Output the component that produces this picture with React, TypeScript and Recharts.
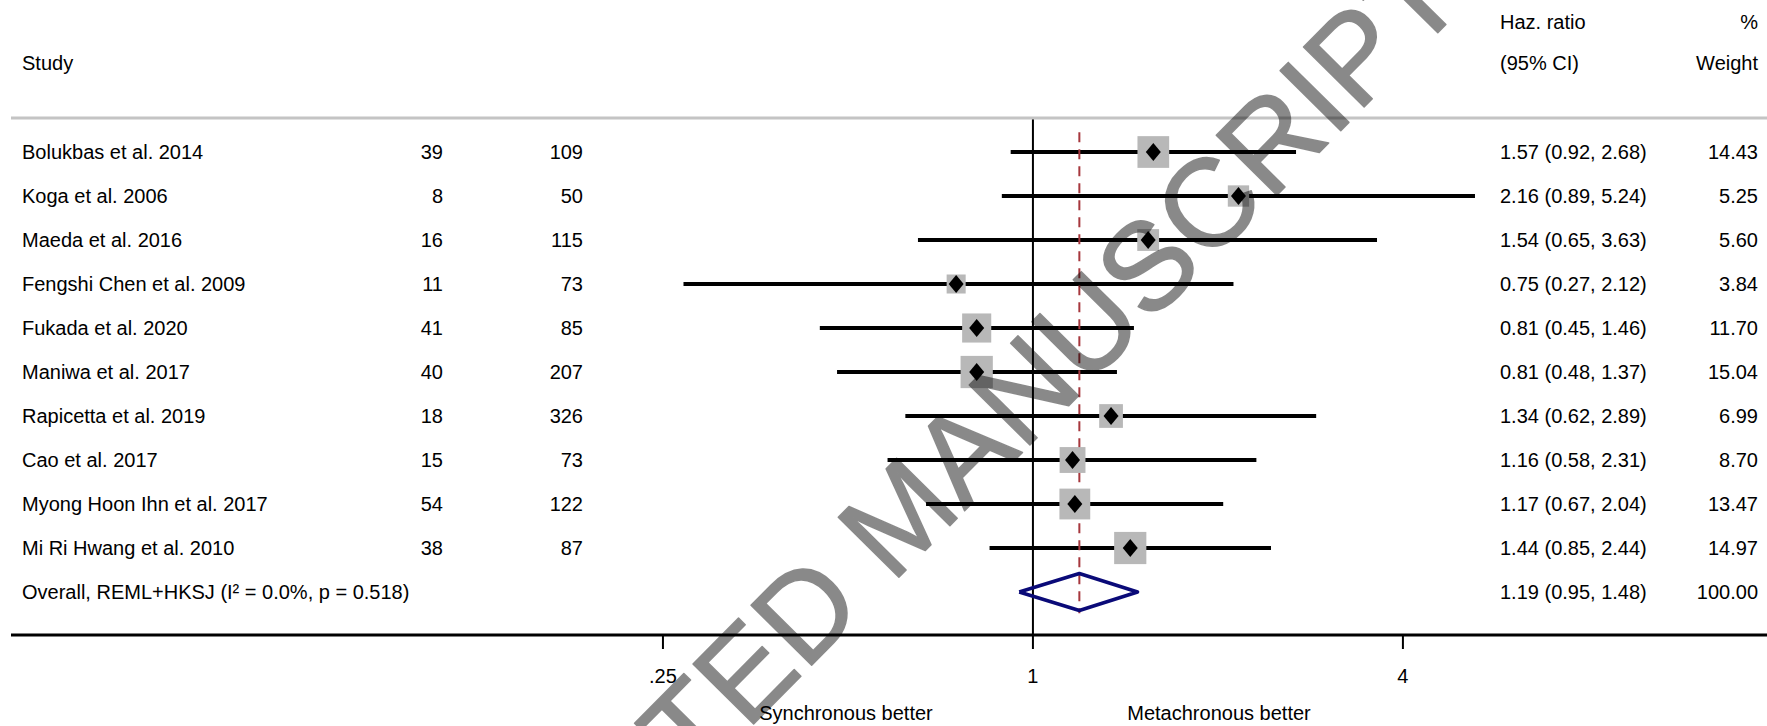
import React from "react"
import {
  ComposedChart,
  XAxis,
  YAxis,
  Scatter,
  Line,
  ReferenceLine,
} from "recharts"

const STUDIES = [
  "Bolukbas et al. 2014",
  "Koga et al. 2006",
  "Maeda et al. 2016",
  "Fengshi Chen et al. 2009",
  "Fukada et al. 2020",
  "Maniwa et al. 2017",
  "Rapicetta et al. 2019",
  "Cao et al. 2017",
  "Myong Hoon Ihn et al. 2017",
  "Mi Ri Hwang et al. 2010",
]
const EVENTS = [39, 8, 16, 11, 41, 40, 18, 15, 54, 38]
const TOTALS = [109, 50, 115, 73, 85, 207, 326, 73, 122, 87]
const HR = [1.57, 2.16, 1.54, 0.75, 0.81, 0.81, 1.34, 1.16, 1.17, 1.44]
const CI_LOW = [0.92, 0.89, 0.65, 0.27, 0.45, 0.48, 0.62, 0.58, 0.67, 0.85]
const CI_HIGH = [2.68, 5.24, 3.63, 2.12, 1.46, 1.37, 2.89, 2.31, 2.04, 2.44]
const WEIGHTS = [14.43, 5.25, 5.6, 3.84, 11.7, 15.04, 6.99, 8.7, 13.47, 14.97]

const OVERALL_LABEL = "Overall, REML+HKSJ (I² = 0.0%, p = 0.518)"
const OVERALL_HR = 1.19
const OVERALL_LOW = 0.95
const OVERALL_HIGH = 1.48
const OVERALL_WEIGHT = 100

const X_TICKS = [0.25, 1, 4]
const X_TICK_LABELS = [".25", "1", "4"]

// layout
const W = 1767
const H = 726
const FONT = "'Liberation Sans', Arial, Helvetica, sans-serif"
const X_DOMAIN: [number, number] = [0.02173, 15.65]
const Y_DOMAIN: [number, number] = [-0.773, 10.977]
const COL_STUDY = 22
const COL_EVENTS = 443
const COL_TOTAL = 583
const COL_HR = 1500
const COL_WEIGHT = 1758
const DIAMOND_HALF = 0.42

const rows = STUDIES.map((_, i) => ({ x: HR[i], y: i, w: WEIGHTS[i] }))

const overallIdx = STUDIES.length
const overallPoly = [
  { x: OVERALL_LOW, y: overallIdx },
  { x: OVERALL_HR, y: overallIdx - DIAMOND_HALF },
  { x: OVERALL_HIGH, y: overallIdx },
  { x: OVERALL_HR, y: overallIdx + DIAMOND_HALF },
  { x: OVERALL_LOW, y: overallIdx },
]

const fmtCI = (h: number, l: number, u: number) =>
  `${h.toFixed(2)} (${l.toFixed(2)}, ${u.toFixed(2)})`

const squareSide = (w: number) => 5.5 + 6.9 * Math.sqrt(w)

function SquareShape(props: any) {
  const { cx, cy, payload } = props
  const s = squareSide(payload.w)
  return <rect x={cx - s / 2} y={cy - s / 2} width={s} height={s} fill="#b8b8b8" />
}

function DiamondShape(props: any) {
  const { cx, cy } = props
  const hw = 7.5
  const hh = 9
  return (
    <polygon
      points={`${cx - hw},${cy} ${cx},${cy - hh} ${cx + hw},${cy} ${cx},${cy + hh}`}
      fill="#000"
    />
  )
}

function RowTick(props: any) {
  const { y, payload } = props
  const i = payload.value
  const base = y + 7
  if (i === overallIdx) {
    return (
      <g fontSize={20} fill="#000">
        <text x={COL_STUDY} y={base}>{OVERALL_LABEL}</text>
        <text x={COL_HR} y={base}>{fmtCI(OVERALL_HR, OVERALL_LOW, OVERALL_HIGH)}</text>
        <text x={COL_WEIGHT} y={base} textAnchor="end">{OVERALL_WEIGHT.toFixed(2)}</text>
      </g>
    )
  }
  return (
    <g fontSize={20} fill="#000">
      <text x={COL_STUDY} y={base}>{STUDIES[i]}</text>
      <text x={COL_EVENTS} y={base} textAnchor="end">{EVENTS[i]}</text>
      <text x={COL_TOTAL} y={base} textAnchor="end">{TOTALS[i]}</text>
      <text x={COL_HR} y={base}>{fmtCI(HR[i], CI_LOW[i], CI_HIGH[i])}</text>
      <text x={COL_WEIGHT} y={base} textAnchor="end">{WEIGHTS[i].toFixed(2)}</text>
    </g>
  )
}

export default function App() {
  return (
    <div style={{ position: "relative", width: W, height: H, fontFamily: FONT, background: "#fff" }}>
      <style>{"body{margin:0}"}</style>
      <ComposedChart
        width={W}
        height={H}
        margin={{ top: 117, right: 0, bottom: 31, left: 10 }}
        style={{ fontFamily: FONT }}
      >
        <XAxis
          dataKey="x"
          type="number"
          scale="log"
          domain={X_DOMAIN}
          allowDataOverflow
          ticks={X_TICKS}
          interval={0}
          height={60}
          tickFormatter={(v: number) => X_TICK_LABELS[X_TICKS.indexOf(v)] ?? String(v)}
          tick={{ fontSize: 20, fill: "#000" }}
          tickSize={14}
          tickMargin={20}
          tickLine={{ stroke: "#000", strokeWidth: 2 }}
          axisLine={{ stroke: "#000", strokeWidth: 3 }}
        />
        <XAxis
          xAxisId="top"
          orientation="top"
          type="number"
          scale="log"
          domain={X_DOMAIN}
          allowDataOverflow
          height={1}
          tick={false}
          tickLine={false}
          axisLine={{ stroke: "#c4c4c4", strokeWidth: 3 }}
        />
        <YAxis
          dataKey="y"
          type="number"
          domain={Y_DOMAIN}
          reversed
          allowDataOverflow
          width={1}
          ticks={[...STUDIES.map((_, i) => i), overallIdx]}
          interval={0}
          axisLine={false}
          tickLine={false}
          tick={RowTick}
        />
        <Scatter data={rows} dataKey="y" shape={SquareShape} isAnimationActive={false} />
        <ReferenceLine x={1} stroke="#000" strokeWidth={2} />
        {rows.map((r, i) => (
          <ReferenceLine
            key={i}
            segment={[
              { x: CI_LOW[i], y: r.y },
              { x: CI_HIGH[i], y: r.y },
            ]}
            stroke="#000"
            strokeWidth={4}
          />
        ))}
        <Scatter data={rows} dataKey="y" shape={DiamondShape} isAnimationActive={false} />
        <ReferenceLine
          segment={[
            { x: OVERALL_HR, y: -0.45 },
            { x: OVERALL_HR, y: 10.48 },
          ]}
          stroke="#a6373d"
          strokeWidth={2}
          strokeDasharray="10 7"
        />
        <Line
          data={overallPoly}
          dataKey="y"
          stroke="#0a0a78"
          strokeWidth={3.5}
          strokeLinejoin="round"
          dot={false}
          activeDot={false}
          isAnimationActive={false}
        />
      </ComposedChart>
      <svg
        width={W}
        height={H}
        style={{ position: "absolute", left: 0, top: 0, pointerEvents: "none", fontFamily: FONT }}
      >
        <g fontSize={20} fill="#000">
          <text x={COL_STUDY} y={70}>Study</text>
          <text x={COL_HR} y={29}>Haz. ratio</text>
          <text x={COL_HR} y={70}>(95% CI)</text>
          <text x={COL_WEIGHT} y={29} textAnchor="end">%</text>
          <text x={COL_WEIGHT} y={70} textAnchor="end">Weight</text>
          <text x={846} y={720} textAnchor="middle">Synchronous better</text>
          <text x={1219} y={720} textAnchor="middle">Metachronous better</text>
        </g>
        <g opacity={0.46}>
          <text
            x={900}
            y={515}
            fontSize={124}
            fill="#000"
            stroke="#000"
            strokeWidth={1.5}
            strokeLinejoin="round"
            textAnchor="middle"
            dominantBaseline="central"
            transform="rotate(-45.3 900 515)"
          >
            ACCEPTED MANUSCRIPT
          </text>
        </g>
      </svg>
    </div>
  )
}
